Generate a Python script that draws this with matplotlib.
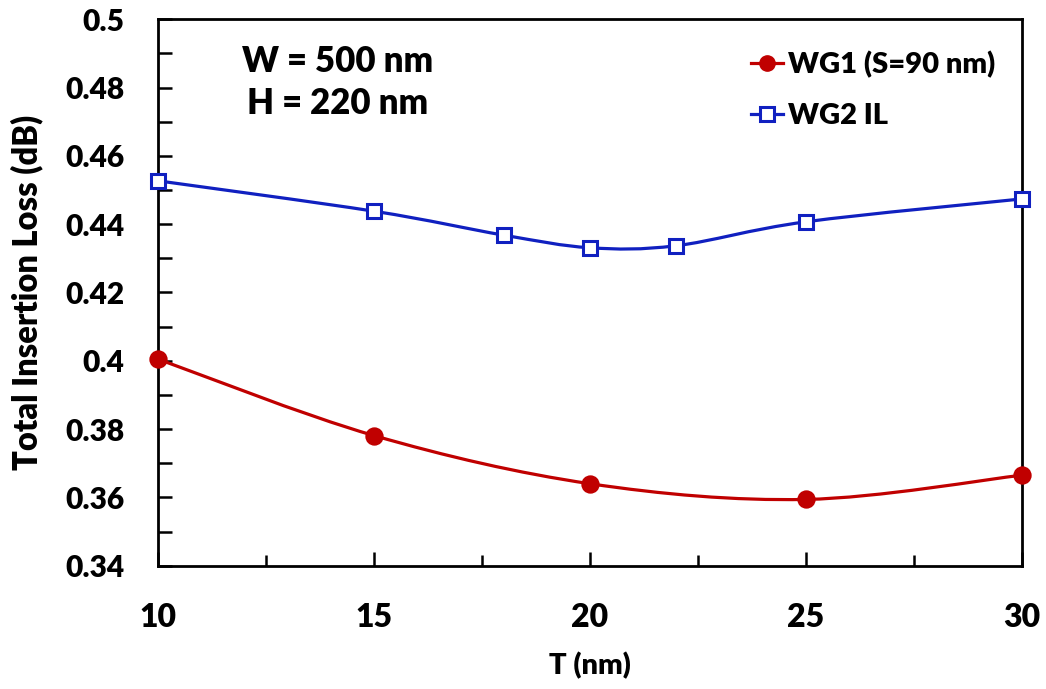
import numpy as np
import matplotlib
matplotlib.use("Agg")
import matplotlib.pyplot as plt
from matplotlib.path import Path
from matplotlib.patches import PathPatch
from matplotlib.lines import Line2D
from matplotlib.ticker import MultipleLocator

plt.rcParams['font.family'] = ['Lato', 'DejaVu Sans']
plt.rcParams['font.weight'] = 'heavy'
W = 'heavy'

# T sweep (nm) and total insertion loss (dB)
wg1_t = [10, 15, 20, 25, 30]
wg1_il = [0.4005, 0.3781, 0.3640, 0.3594, 0.3665]
wg2_t = [10, 15, 18, 20, 22, 25, 30]
wg2_il = [0.4527, 0.4438, 0.4368, 0.4331, 0.4337, 0.4407, 0.4474]
y_ticks = [0.34, 0.36, 0.38, 0.40, 0.42, 0.44, 0.46, 0.48, 0.50]
y_tick_labels = ['0.34', '0.36', '0.38', '0.4', '0.42', '0.44', '0.46', '0.48', '0.5']

red = '#C00000'
blue = '#1020C0'


def smooth_path(x, y):
    # Catmull-Rom spline turned into cubic bezier segments
    pts = np.column_stack([x, y]).astype(float)
    n = len(pts)
    verts = [pts[0]]
    codes = [Path.MOVETO]
    for i in range(n - 1):
        p0 = pts[i - 1] if i > 0 else pts[i]
        p1 = pts[i]
        p2 = pts[i + 1]
        p3 = pts[i + 2] if i + 2 < n else pts[i + 1]
        c1 = p1 + (p2 - p0) / 6.0
        c2 = p2 - (p3 - p1) / 6.0
        verts += [c1, c2, p2]
        codes += [Path.CURVE4] * 3
    return Path(verts, codes)


fig = plt.figure(figsize=(10.46, 6.89), dpi=100)
ax = fig.add_axes([0.151, 0.179, 0.826, 0.793])

for t, il, col, mk, mfc, ms in [(wg1_t, wg1_il, red, 'o', red, 11),
                                 (wg2_t, wg2_il, blue, 's', 'white', 9.5)]:
    ax.add_patch(PathPatch(smooth_path(t, il), fill=False, edgecolor=col,
                           lw=2.3, zorder=2))
    ax.plot(t, il, linestyle='none', marker=mk, markersize=ms, color=col,
            markerfacecolor=mfc, markeredgewidth=2.2, zorder=3, clip_on=False)

ax.set_xlim(10, 30)
ax.set_ylim(0.34, 0.5)
ax.xaxis.set_major_locator(MultipleLocator(5))
ax.xaxis.set_minor_locator(MultipleLocator(2.5))
ax.yaxis.set_minor_locator(MultipleLocator(0.01))
ax.set_yticks(y_ticks)
ax.set_yticklabels(y_tick_labels)

ax.tick_params(axis='both', which='both', direction='in', width=1.8, color='black')
ax.tick_params(axis='y', which='both', length=10, labelsize=21.5, pad=24)
ax.tick_params(axis='x', which='major', length=10, labelsize=23, pad=27)
ax.tick_params(axis='x', which='minor', length=8)
ax.tick_params(top=False, right=False, which='both')
for lab in ax.get_xticklabels() + ax.get_yticklabels():
    lab.set_fontweight(W)
for sp in ax.spines.values():
    sp.set_linewidth(2.0)
    sp.set_color('black')

ax.set_ylabel('Total Insertion Loss (dB)', fontsize=23.5, fontweight=W)
ax.set_xlabel('T (nm)', fontsize=21, fontweight=W)
ax.yaxis.label.set_va('center')
ax.xaxis.label.set_va('center')
ax.yaxis.set_label_coords(-0.152, 0.5)
ax.xaxis.set_label_coords(0.5, -0.182)

ax.text(0.208, 0.884, 'W = 500 nm\nH = 220 nm', transform=ax.transAxes,
        ha='center', va='center', fontsize=25, fontweight=W, linespacing=1.33)

handles = [Line2D([], [], color=red, lw=2.3, marker='o', markersize=11),
           Line2D([], [], color=blue, lw=2.3, marker='s', markersize=9.5,
                  markerfacecolor='white', markeredgewidth=2.2)]
ax.legend(handles, ['WG1 (S=90 nm)', 'WG2 IL'], loc='upper right',
          bbox_to_anchor=(1.0, 0.99), frameon=False,
          handlelength=1.1, handletextpad=0.2, labelspacing=0.85,
          prop={'weight': W, 'size': 21})

fig.savefig('out.png', dpi=100)
